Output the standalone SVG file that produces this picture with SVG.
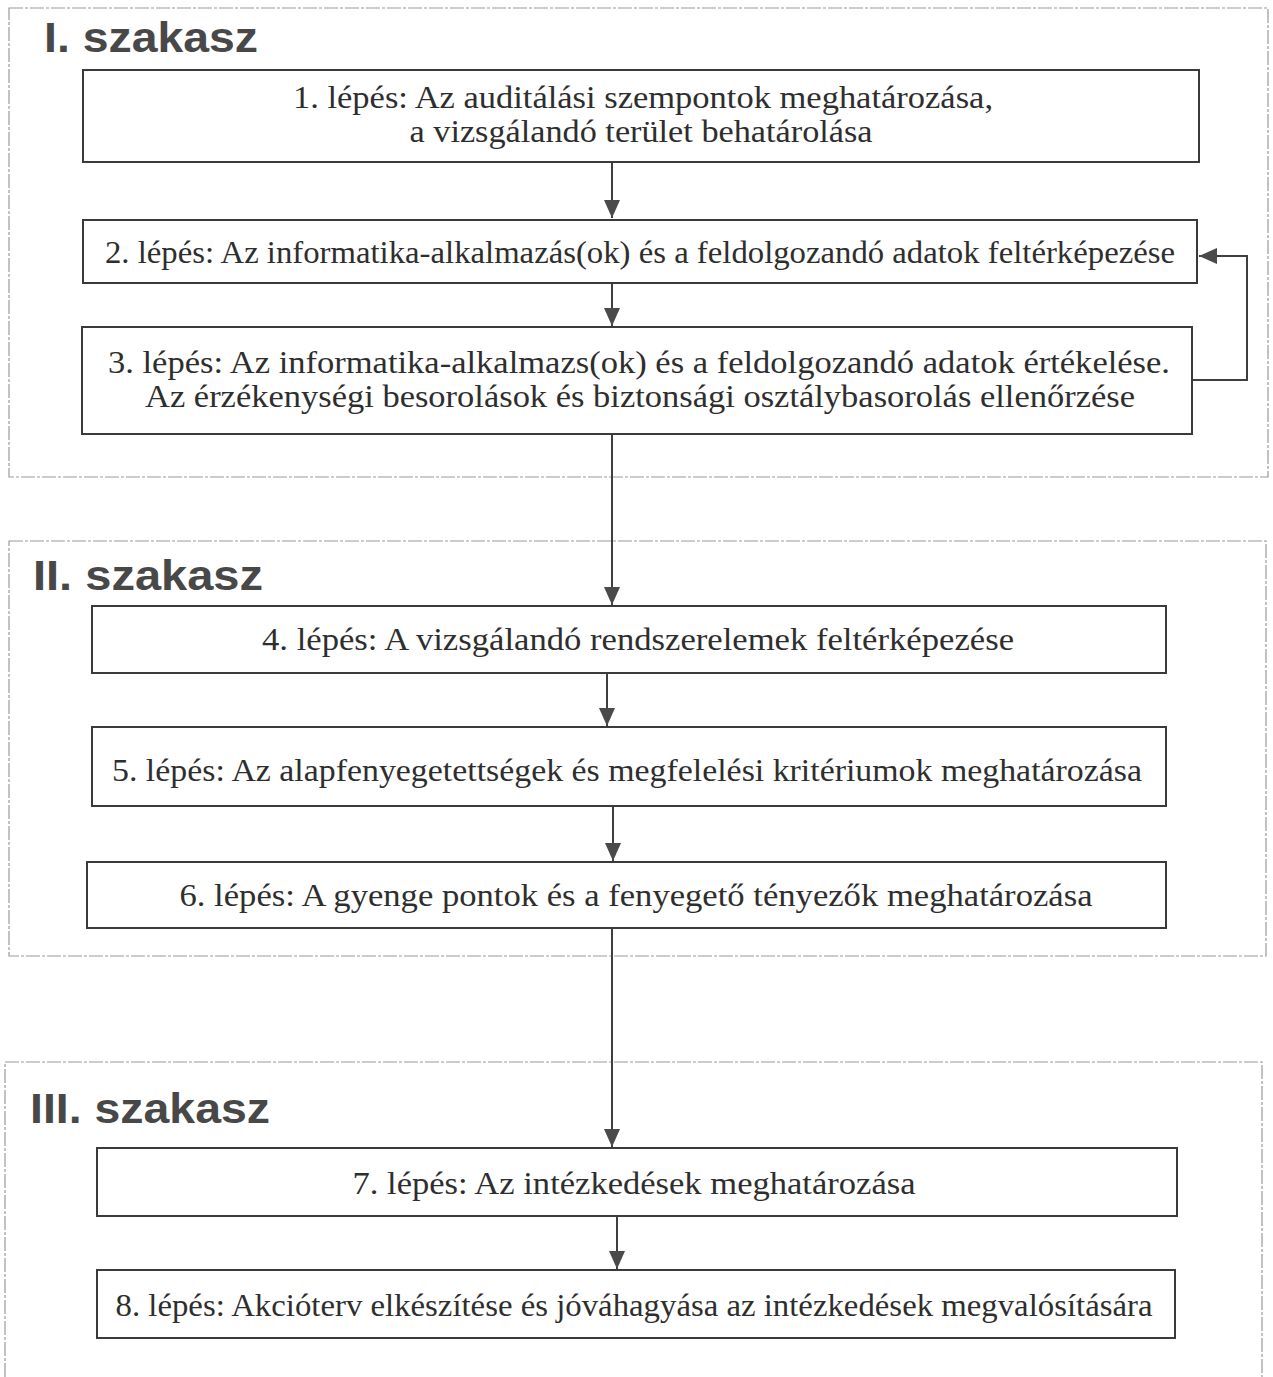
<svg xmlns="http://www.w3.org/2000/svg" width="1273" height="1377" viewBox="0 0 1273 1377">
<style>
.sec{fill:none;stroke:#9a9a9a;stroke-width:1.2;stroke-dasharray:14 2 3 2}
.title{font-family:"Liberation Sans",Arial,sans-serif;font-weight:bold;font-size:43px;fill:#484848}
.box{fill:#fff;stroke:#3a3a3a;stroke-width:2}
.t{font-family:"Liberation Serif","Times New Roman",serif;font-size:32px;fill:#2e2e2e;text-anchor:middle}
.c{fill:none;stroke:#3f3f3f;stroke-width:2}
</style>
<defs>
<marker id="ah" viewBox="0 0 18 16" refX="18" refY="8" markerWidth="18" markerHeight="16" markerUnits="userSpaceOnUse" orient="auto">
<path d="M0,0 L18,8 L0,16 Z" fill="#4a4a4a"/>
</marker>
</defs>
<rect width="1273" height="1377" fill="#fff"/>
<g id="section1">
<rect class="sec" x="9" y="8" width="1259" height="469"/>
<text class="title" x="44" y="52" textLength="214" lengthAdjust="spacingAndGlyphs">I. szakasz</text>
</g>
<g id="section2">
<rect class="sec" x="9" y="541" width="1257" height="415"/>
<text class="title" x="33" y="590" textLength="230" lengthAdjust="spacingAndGlyphs">II. szakasz</text>
</g>
<g id="section3">
<path class="sec" d="M5,1377 V1062 H1262 V1377"/>
<text class="title" x="30" y="1123" textLength="240" lengthAdjust="spacingAndGlyphs">III. szakasz</text>
</g>
<g id="connectors">
<line class="c" x1="612" y1="162" x2="612" y2="218" marker-end="url(#ah)"/>
<line class="c" x1="612" y1="283" x2="612" y2="326" marker-end="url(#ah)"/>
<line class="c" x1="612" y1="434" x2="612" y2="605" marker-end="url(#ah)"/>
<line class="c" x1="607" y1="673" x2="607" y2="726" marker-end="url(#ah)"/>
<line class="c" x1="613" y1="806" x2="613" y2="861" marker-end="url(#ah)"/>
<line class="c" x1="612" y1="928" x2="612" y2="1147" marker-end="url(#ah)"/>
<line class="c" x1="617" y1="1216" x2="617" y2="1269" marker-end="url(#ah)"/>
<polyline class="c" points="1192,380 1247,380 1247,256 1199,256" marker-end="url(#ah)"/>
</g>
<g id="step1">
<rect class="box" x="83" y="70" width="1116" height="92"/>
<text class="t" x="643" y="108" textLength="700" lengthAdjust="spacingAndGlyphs">1. lépés: Az auditálási szempontok meghatározása,</text>
<text class="t" x="641" y="142" textLength="463" lengthAdjust="spacingAndGlyphs">a vizsgálandó terület behatárolása</text>
</g>
<g id="step2">
<rect class="box" x="83" y="220" width="1114" height="63"/>
<text class="t" x="640" y="263" textLength="1070" lengthAdjust="spacingAndGlyphs">2. lépés: Az informatika-alkalmazás(ok) és a feldolgozandó adatok feltérképezése</text>
</g>
<g id="step3">
<rect class="box" x="82" y="327" width="1110" height="107"/>
<text class="t" x="639" y="373" textLength="1062" lengthAdjust="spacingAndGlyphs">3. lépés: Az informatika-alkalmazs(ok) és a feldolgozandó adatok értékelése.</text>
<text class="t" x="640" y="407" textLength="990" lengthAdjust="spacingAndGlyphs">Az érzékenységi besorolások és biztonsági osztálybasorolás ellenőrzése</text>
</g>
<g id="step4">
<rect class="box" x="92" y="606" width="1074" height="67"/>
<text class="t" x="638" y="650" textLength="752" lengthAdjust="spacingAndGlyphs">4. lépés: A vizsgálandó rendszerelemek feltérképezése</text>
</g>
<g id="step5">
<rect class="box" x="92" y="727" width="1074" height="79"/>
<text class="t" x="627" y="781" textLength="1030" lengthAdjust="spacingAndGlyphs">5. lépés: Az alapfenyegetettségek és megfelelési kritériumok meghatározása</text>
</g>
<g id="step6">
<rect class="box" x="87" y="862" width="1079" height="66"/>
<text class="t" x="636" y="906" textLength="913" lengthAdjust="spacingAndGlyphs">6. lépés: A gyenge pontok és a fenyegető tényezők meghatározása</text>
</g>
<g id="step7">
<rect class="box" x="97" y="1148" width="1080" height="68"/>
<text class="t" x="634" y="1194" textLength="563" lengthAdjust="spacingAndGlyphs">7. lépés: Az intézkedések meghatározása</text>
</g>
<g id="step8">
<rect class="box" x="97" y="1270" width="1078" height="68"/>
<text class="t" x="634" y="1316" textLength="1037" lengthAdjust="spacingAndGlyphs">8. lépés: Akcióterv elkészítése és jóváhagyása az intézkedések megvalósítására</text>
</g>
</svg>
